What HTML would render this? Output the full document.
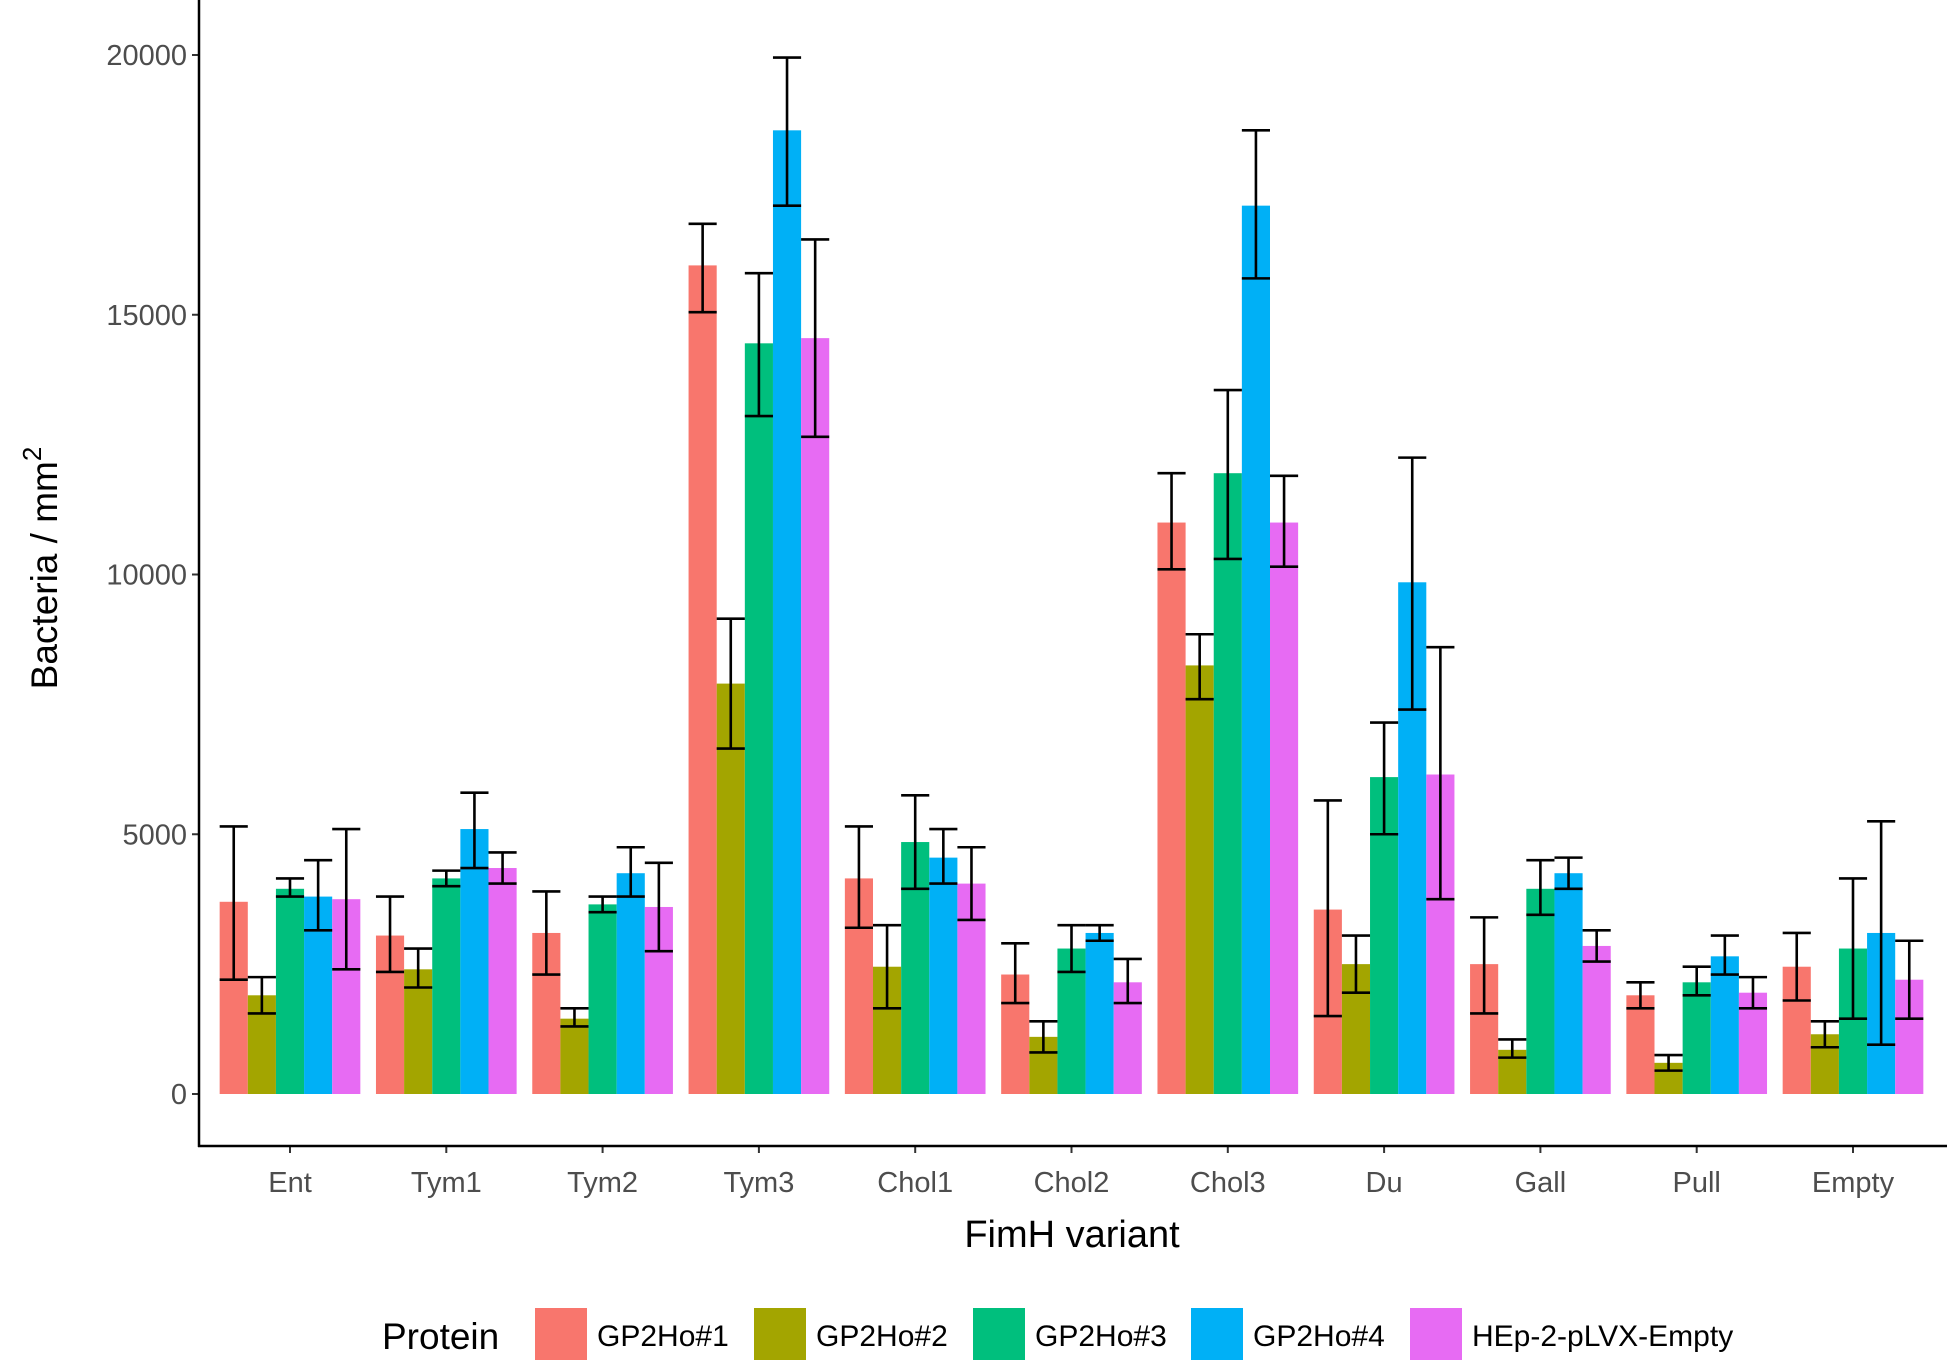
<!DOCTYPE html>
<html><head><meta charset="utf-8"><style>
html,body{margin:0;padding:0;background:#fff;}
svg{display:block;font-family:"Liberation Sans",Arial,sans-serif;}
</style></head><body>
<svg id="chart" width="1950" height="1362" viewBox="0 0 1950 1362" xmlns="http://www.w3.org/2000/svg">
<g id="plot"></g>
<g id="axes"></g>
<text transform="translate(57,568) rotate(-90)" text-anchor="middle" font-size="37" fill="#000">Bacteria / mm<tspan dy="-16" font-size="26">2</tspan></text>
<text x="1072" y="1247" text-anchor="middle" font-size="38" fill="#000">FimH variant</text>
<g id="legend">
<text x="382" y="1349" font-size="37" fill="#000">Protein</text>
</g>
</svg>
<script>
const categories=["Ent","Tym1","Tym2","Tym3","Chol1","Chol2","Chol3","Du","Gall","Pull","Empty"];
const seriesNames=["GP2Ho#1","GP2Ho#2","GP2Ho#3","GP2Ho#4","HEp-2-pLVX-Empty"];
const colors=["#F8766D","#A3A500","#00BF7D","#00B0F6","#E76BF3"];
const s1=[3700,3050,3100,15950,4150,2300,11000,3550,2500,1900,2450];
const s1lo=[2200,2350,2300,15050,3200,1750,10100,1500,1550,1650,1800];
const s1hi=[5150,3800,3900,16750,5150,2900,11950,5650,3400,2150,3100];
const s2=[1900,2400,1450,7900,2450,1100,8250,2500,850,600,1150];
const s2lo=[1550,2050,1300,6650,1650,800,7600,1950,700,450,900];
const s2hi=[2250,2800,1650,9150,3250,1400,8850,3050,1050,750,1400];
const s3=[3950,4150,3650,14450,4850,2800,11950,6100,3950,2150,2800];
const s3lo=[3800,4000,3500,13050,3950,2350,10300,5000,3450,1900,1450];
const s3hi=[4150,4300,3800,15800,5750,3250,13550,7150,4500,2450,4150];
const s4=[3800,5100,4250,18550,4550,3100,17100,9850,4250,2650,3100];
const s4lo=[3150,4350,3800,17100,4050,2950,15700,7400,3950,2300,950];
const s4hi=[4500,5800,4750,19950,5100,3250,18550,12250,4550,3050,5250];
const s5=[3750,4350,3600,14550,4050,2150,11000,6150,2850,1950,2200];
const s5lo=[2400,4050,2750,12650,3350,1750,10150,3750,2550,1650,1450];
const s5hi=[5100,4650,4450,16450,4750,2600,11900,8600,3150,2250,2950];
const yTicks=[0,5000,10000,15000,20000];

const vals=[s1,s2,s3,s4,s5],los=[s1lo,s2lo,s3lo,s4lo,s5lo],his=[s1hi,s2hi,s3hi,s4hi,s5hi];
const NS="http://www.w3.org/2000/svg";
const L=199,R=1947,B=1146,Y0=1094,Y20=55;
const y=v=>Y0-(v/20000)*(Y0-Y20);
const step=(1853-290)/10;
const xc=i=>290+i*step;
const bw=step*0.9/5;
function mk(t,a,p){const e=document.createElementNS(NS,t);for(const k in a)e.setAttribute(k,a[k]);p.appendChild(e);return e;}
const plot=document.getElementById('plot'),axes=document.getElementById('axes'),leg=document.getElementById('legend');
categories.forEach((c,i)=>{
  for(let s=0;s<5;s++){
    const x0=xc(i)-step*0.45+s*bw;
    const r=mk('rect',{x:x0,y:y(vals[s][i]),width:bw,height:y(0)-y(vals[s][i]),fill:colors[s]},plot);
    
    
  }
  for(let s=0;s<5;s++){
    const cx=xc(i)-step*0.45+(s+0.5)*bw;
    const g=mk('g',{stroke:'#000','stroke-width':2.6},plot);
    
    
    mk('line',{x1:cx,x2:cx,y1:y(los[s][i]),y2:y(his[s][i])},g);
    mk('line',{x1:cx-bw/2,x2:cx+bw/2,y1:y(los[s][i]),y2:y(los[s][i])},g);
    mk('line',{x1:cx-bw/2,x2:cx+bw/2,y1:y(his[s][i]),y2:y(his[s][i])},g);
  }
  mk('line',{x1:xc(i),x2:xc(i),y1:B,y2:B+7,stroke:'#333','stroke-width':2},axes);
  const t=mk('text',{x:xc(i),y:1192,'text-anchor':'middle','font-size':29,fill:'#4d4d4d'},axes);
  t.textContent=c;
  
  
});
yTicks.forEach(v=>{
  mk('line',{x1:L-7,x2:L,y1:y(v),y2:y(v),stroke:'#333','stroke-width':2},axes);
  const t=mk('text',{x:L-12,y:y(v)+10,'text-anchor':'end','font-size':29,fill:'#4d4d4d'},axes);
  t.textContent=v;
  
  
});
const ya=mk('line',{x1:L,x2:L,y1:0,y2:B+1,stroke:'#000','stroke-width':2.5},axes);


const xa=mk('line',{x1:L-1,x2:R,y1:B,y2:B,stroke:'#000','stroke-width':2.5},axes);


const keyX=[535,754,973,1191,1410];
seriesNames.forEach((n,s)=>{
  const g=mk('g',{},leg);
  
  
  mk('rect',{x:keyX[s],y:1308,width:52,height:52,fill:colors[s]},g);
  const t=mk('text',{x:keyX[s]+62,y:1346,'font-size':30,fill:'#000'},g);
  t.textContent=n;
});
</script>
</body></html>
